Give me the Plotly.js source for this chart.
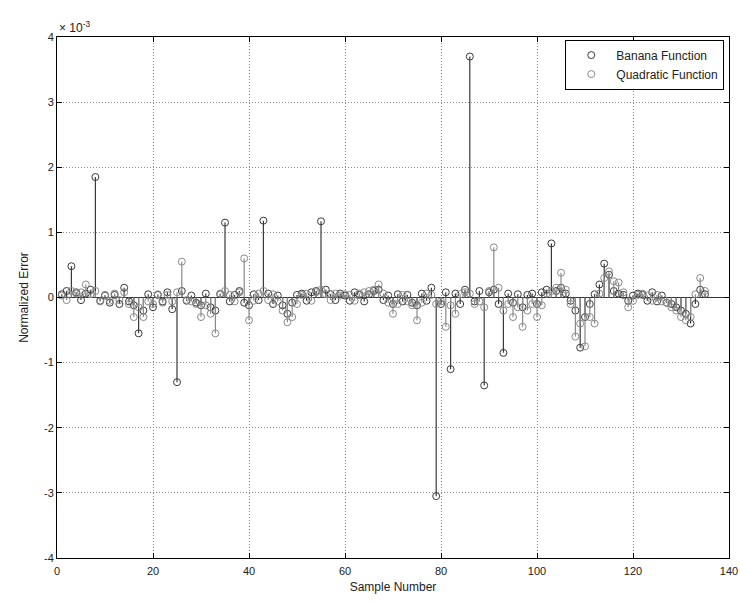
<!DOCTYPE html>
<html>
<head>
<meta charset="utf-8">
<script src="https://cdn.plot.ly/plotly-3.0.1.min.js"></script>
<style>
  html, body { margin: 0; padding: 0; background: #ffffff; }
  #chart { width: 740px; height: 602px; }
</style>
</head>
<body>
<div id="chart"></div>
<script>
// Normalized error per sample, in units of 1e-3
const sampleNumbers = Array.from({length: 135}, (_, i) => i + 1);

const bananaError = [
  0.05, 0.10, 0.48, 0.08, -0.04, 0.06, 0.12, 1.85, -0.05, 0.03,
  -0.08, 0.04, -0.10, 0.15, -0.06, -0.12, -0.55, -0.20, 0.05, -0.15,
  0.04, -0.06, 0.08, -0.18, -1.30, 0.10, -0.05, 0.03, -0.08, -0.12,
  0.06, -0.15, -0.20, 0.05, 1.15, -0.06, 0.04, 0.10, -0.08, -0.12,
  0.05, -0.04, 1.18, 0.06, -0.10, 0.03, -0.12, -0.25, -0.08, 0.04,
  0.06, -0.05, 0.08, 0.10, 1.17, 0.12, 0.05, -0.04, 0.06, 0.03,
  -0.05, 0.08, 0.04, -0.06, 0.05, 0.10, 0.12, -0.04, 0.03, -0.10,
  0.05, -0.06, 0.04, -0.08, -0.12, 0.06, -0.05, 0.15, -3.05, -0.10,
  0.08, -1.10, 0.06, -0.10, 0.12, 3.70, -0.06, 0.10, -1.35, 0.08,
  0.12, -0.10, -0.85, 0.06, -0.08, 0.05, -0.15, 0.04, 0.06, -0.10,
  0.08, 0.12, 0.83, 0.10, 0.15, 0.06, -0.05, -0.20, -0.77, -0.30,
  -0.10, 0.05, 0.20, 0.52, 0.35, 0.10, 0.06, 0.04, -0.05, 0.03,
  0.06, 0.04, -0.05, 0.08, -0.06, 0.03, -0.08, -0.10, -0.15, -0.20,
  -0.25, -0.40, -0.10, 0.12, 0.05
];

const quadraticError = [
  0.03, -0.04, 0.10, 0.06, 0.08, 0.20, 0.05, 0.10, -0.06, 0.04,
  -0.05, 0.06, -0.04, 0.08, -0.10, -0.30, -0.15, -0.30, -0.06, -0.10,
  0.05, -0.08, 0.04, -0.06, 0.08, 0.55, -0.04, -0.06, -0.10, -0.30,
  -0.12, -0.25, -0.55, 0.06, 0.10, 0.04, -0.06, 0.08, 0.60, -0.35,
  -0.05, 0.06, 0.10, -0.04, 0.05, -0.06, -0.20, -0.38, -0.30, -0.10,
  0.04, 0.06, -0.05, 0.08, 0.12, 0.05, -0.04, 0.06, 0.03, 0.05,
  0.04, -0.05, 0.06, 0.08, 0.10, 0.12, 0.20, 0.06, -0.08, -0.25,
  -0.10, 0.04, -0.06, -0.12, -0.35, -0.08, 0.06, 0.04, -0.10, -0.06,
  -0.45, -0.12, -0.25, 0.05, 0.08, 0.06, -0.10, -0.06, -0.15, 0.10,
  0.77, 0.15, -0.20, -0.10, -0.30, -0.15, -0.45, -0.20, -0.10, -0.30,
  -0.12, 0.06, 0.10, 0.15, 0.38, 0.12, -0.10, -0.60, -0.40, -0.75,
  -0.30, -0.40, 0.06, 0.30, 0.40, 0.25, 0.23, 0.08, -0.15, -0.05,
  0.04, 0.06, 0.03, -0.05, 0.04, -0.06, -0.08, -0.15, -0.20, -0.30,
  -0.35, -0.30, 0.05, 0.30, 0.10
];

const seriesNames = ['Banana Function', 'Quadratic Function'];
const xTicks = [0, 20, 40, 60, 80, 100, 120, 140];
const yTicks = [-4, -3, -2, -1, 0, 1, 2, 3, 4];

const FONT = 'Liberation Sans, Arial, sans-serif';

// A stem plot: each marker hangs on a vertical line down (or up) to zero
function stemTrace(values, name, color) {
  return {
    type: 'scatter',
    mode: 'markers',
    name: name,
    x: sampleNumbers,
    y: values,
    marker: {
      symbol: 'circle-open',
      size: 7,
      color: color,
      line: {width: 1, color: color}
    },
    error_y: {
      type: 'data',
      symmetric: false,
      array: values.map(v => (v < 0 ? -v : 0)),
      arrayminus: values.map(v => (v > 0 ? v : 0)),
      width: 0,
      thickness: 1.2,
      color: color
    },
    cliponaxis: false,
    hoverinfo: 'x+y'
  };
}

const data = [
  stemTrace(bananaError, seriesNames[0], '#3a3a3a'),
  stemTrace(quadraticError, seriesNames[1], '#8a8a8a')
];

const axisCommon = {
  showline: true,
  mirror: 'ticks',
  linecolor: '#000',
  linewidth: 1,
  ticks: 'inside',
  ticklen: 5,
  tickcolor: '#000',
  showgrid: true,
  gridcolor: '#8a8a8a',
  griddash: '1px,2px',
  gridwidth: 1,
  tickfont: {family: FONT, size: 11, color: '#222'},
  title: {font: {family: FONT, size: 12, color: '#222'}}
};

const layout = {
  width: 740,
  height: 602,
  margin: {l: 57, r: 11, t: 37, b: 44},
  paper_bgcolor: '#ffffff',
  plot_bgcolor: '#ffffff',
  showlegend: true,
  legend: {
    x: 0.993, y: 0.995, xanchor: 'right', yanchor: 'top',
    bgcolor: '#ffffff',
    bordercolor: '#000',
    borderwidth: 1,
    itemwidth: 40,
    font: {family: FONT, size: 12, color: '#222'},
    tracegroupgap: 0
  },
  xaxis: Object.assign({}, axisCommon, {
    range: [0, 140],
    tickvals: xTicks,
    ticktext: xTicks.map(String),
    ticklabelstandoff: 3,
    zeroline: false,
    title: {text: 'Sample Number', standoff: 6, font: axisCommon.title.font}
  }),
  yaxis: Object.assign({}, axisCommon, {
    range: [-4, 4],
    tickvals: yTicks,
    ticktext: yTicks.map(String),
    zeroline: true,
    zerolinecolor: '#333',
    zerolinewidth: 1.2,
    title: {text: 'Normalized Error', standoff: 12, font: axisCommon.title.font}
  }),
  annotations: [{
    xref: 'paper', yref: 'paper',
    x: 0, y: 1, xanchor: 'left', yanchor: 'bottom',
    text: '× 10<sup>-3</sup>',
    showarrow: false,
    font: {family: FONT, size: 12, color: '#222'}
  }]
};

Plotly.newPlot('chart', data, layout, {displayModeBar: false, staticPlot: true});
</script>
</body>
</html>
